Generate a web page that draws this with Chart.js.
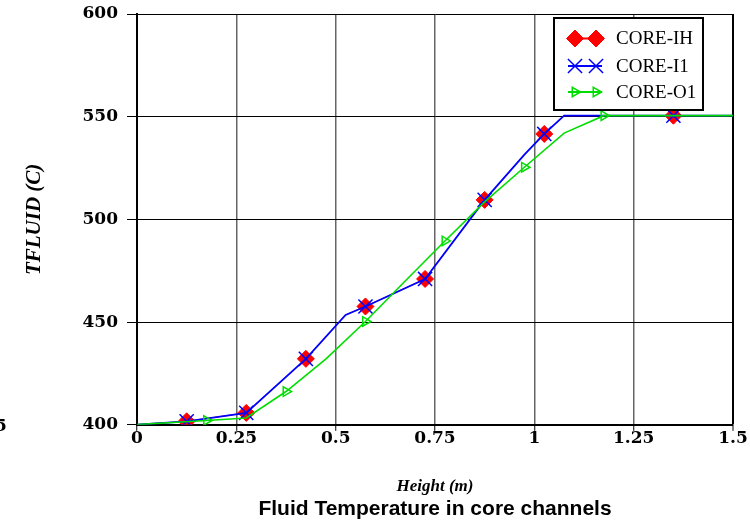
<!DOCTYPE html>
<html>
<head>
<meta charset="utf-8">
<title>Fluid Temperature in core channels</title>
<script src="https://cdn.jsdelivr.net/npm/chart.js@4.4.0/dist/chart.umd.min.js"></script>
<style>
    body { margin: 0; background: #fff; }
    #wrap { width: 750px; height: 527px; }
</style>
</head>
<body>
<div id="wrap"><canvas id="tfluidChart" width="750" height="527"></canvas></div>
<script>
// values (height in m, fluid temperature in C)
const ihHeight = [0, 0.125, 0.275, 0.425, 0.525, 0.575, 0.725, 0.875, 0.975, 1.025, 1.075, 1.35, 1.5];
const ihTemp = [400.1, 401.7, 405.8, 432.1, 453.5, 457.6, 471.0, 509.5, 531.5, 541.6, 550.5, 550.5, 550.5];
const i1Height = [0, 0.125, 0.275, 0.425, 0.525, 0.575, 0.725, 0.875, 0.975, 1.025, 1.075, 1.35, 1.5];
const i1Temp = [400.1, 401.7, 405.8, 432.1, 453.5, 457.6, 471.0, 509.5, 531.5, 541.6, 550.5, 550.5, 550.5];
const o1Height = [0, 0.175, 0.275, 0.375, 0.475, 0.575, 0.675, 0.775, 0.875, 0.975, 1.075, 1.175, 1.5];
const o1Temp = [400.1, 402.1, 403.3, 416.2, 432, 450.3, 470, 489.5, 508.5, 525.4, 542, 550.5, 550.5];

// which points carry a marker
const ihMarks = [1, 2, 3, 5, 6, 7, 9, 11];
const i1Marks = [1, 2, 3, 5, 6, 7, 9, 11];
const o1Marks = [1, 3, 5, 7, 9, 11];

const seriesNames = ['CORE-IH', 'CORE-I1', 'CORE-O1'];
const xTicks = [0, 0.25, 0.5, 0.75, 1, 1.25, 1.5];
const yTicks = [400, 450, 500, 550, 600];

function toPoints(xs, ys) {
    return xs.map((x, i) => ({ x: x, y: ys[i] }));
}

function markerRadius(marks, r) {
    return ctx => marks.includes(ctx.dataIndex) ? r : 0;
}

// legend box drawn inside the plot, line sample with a marker at each end
const boxLegend = {
    id: 'boxLegend',
    afterDraw(chart) {
        const ctx = chart.ctx;
        ctx.save();
        ctx.fillStyle = '#fff';
        ctx.fillRect(554, 18, 149, 92);
        ctx.strokeStyle = '#000';
        ctx.lineWidth = 2;
        ctx.strokeRect(554, 18, 149, 92);

        const rows = [38.5, 66, 92];
        chart.data.datasets.forEach((ds, i) => {
            const y = rows[i];
            ctx.strokeStyle = ds.borderColor;
            ctx.lineWidth = 1.8;
            ctx.beginPath();
            ctx.moveTo(568, y);
            ctx.lineTo(602, y);
            ctx.stroke();
            [575, 596].forEach(x => {
                ctx.fillStyle = ds.pointBackgroundColor;
                ctx.strokeStyle = ds.borderColor;
                ctx.lineWidth = ds.pointBorderWidth;
                Chart.helpers.drawPoint(ctx, {
                    pointStyle: ds.pointStyle,
                    rotation: ds.pointRotation || 0,
                    radius: ds.legendRadius,
                    borderWidth: ds.pointBorderWidth
                }, x, y);
            });
            ctx.fillStyle = '#000';
            ctx.font = '19px "Liberation Serif"';
            ctx.textAlign = 'left';
            ctx.textBaseline = 'middle';
            ctx.fillText(ds.label, 616, y + 1);
        });

        // clipped digit at the left edge of the original figure
        ctx.font = 'bold 17px "DejaVu Serif"';
        ctx.textAlign = 'left';
        ctx.fillText('5', -5, 427);
        ctx.restore();
    }
};

const data = {
    datasets: [
        {
            label: seriesNames[0],
            data: toPoints(ihHeight, ihTemp),
            borderColor: '#ff0000',
            backgroundColor: '#ff0000',
            pointBackgroundColor: '#ff0000',
            borderWidth: 1,
            pointStyle: 'rectRot',
            pointRadius: markerRadius(ihMarks, 8.5),
            pointBorderWidth: 1,
            legendRadius: 8.5,
            order: 3
        },
        {
            label: seriesNames[1],
            data: toPoints(i1Height, i1Temp),
            borderColor: '#0000ff',
            backgroundColor: '#0000ff',
            pointBackgroundColor: '#0000ff',
            borderWidth: 1.8,
            pointStyle: 'crossRot',
            pointRadius: markerRadius(i1Marks, 10),
            pointBorderWidth: 1.5,
            legendRadius: 10,
            order: 2
        },
        {
            label: seriesNames[2],
            data: toPoints(o1Height, o1Temp),
            borderColor: '#00dd00',
            backgroundColor: 'rgba(0,0,0,0)',
            pointBackgroundColor: 'rgba(0,0,0,0)',
            borderWidth: 1.6,
            pointStyle: 'triangle',
            pointRotation: 90,
            pointRadius: markerRadius(o1Marks, 5.5),
            pointBorderWidth: 1.5,
            legendRadius: 5.5,
            order: 1
        }
    ]
};

const tickFont = { family: '"DejaVu Serif"', size: 17, weight: 'bold' };

const config = {
    type: 'scatter',
    data: data,
    options: {
        responsive: false,
        animation: false,
        showLine: true,
        elements: { line: { tension: 0 } },
        layout: { padding: { top: 14, right: 17, left: 0, bottom: 0 } },
        plugins: {
            legend: { display: false },
            tooltip: { enabled: false },
            title: {
                display: true,
                position: 'bottom',
                fullSize: false,
                text: 'Fluid Temperature in core channels',
                color: '#000',
                font: { family: '"Liberation Sans"', size: 21, weight: 'bold' },
                padding: { top: 0, bottom: 5 }
            }
        },
        scales: {
            x: {
                type: 'linear',
                min: 0,
                max: 1.5,
                afterBuildTicks: scale => { scale.ticks = xTicks.map(v => ({ value: v })); },
                afterFit: scale => {
                    scale.height = 72;
                    scale.paddingLeft = 0;
                    scale.paddingRight = 0;
                },
                ticks: {
                    color: '#000',
                    font: tickFont,
                    padding: -2,
                    maxRotation: 0,
                    callback: v => String(v)
                },
                grid: {
                    color: c => (c.tick && (c.tick.value === 0 || c.tick.value === 1.5)) ? '#000' : '#666',
                    lineWidth: c => (c.tick && c.tick.value === 1.5) ? 2 : 1.5,
                    tickColor: '#000',
                    tickLength: 6,
                    tickWidth: 1
                },
                border: { color: '#000', width: 2 },
                title: {
                    display: true,
                    text: 'Height (m)',
                    color: '#000',
                    font: { family: '"Liberation Serif"', size: 17, weight: 'bold', style: 'italic' },
                    padding: { top: 0, bottom: 0 }
                }
            },
            y: {
                type: 'linear',
                min: 400,
                max: 600,
                afterBuildTicks: scale => { scale.ticks = yTicks.map(v => ({ value: v })); },
                afterFit: scale => {
                    scale.width = 137;
                    scale.paddingTop = 0;
                    scale.paddingBottom = 0;
                },
                ticks: {
                    color: '#000',
                    font: tickFont,
                    padding: 9
                },
                grid: {
                    color: '#000',
                    lineWidth: 1,
                    tickColor: '#000',
                    tickLength: 10
                },
                border: { color: '#000', width: 2 },
                title: {
                    display: true,
                    text: 'TFLUID (C)',
                    color: '#000',
                    font: { family: '"Liberation Serif"', size: 21, weight: 'bold', style: 'italic' },
                    padding: { top: 22, bottom: 0 }
                }
            }
        }
    },
    plugins: [boxLegend]
};

const ctx = document.getElementById('tfluidChart').getContext('2d');
const chart = new Chart(ctx, config);
</script>
</body>
</html>
